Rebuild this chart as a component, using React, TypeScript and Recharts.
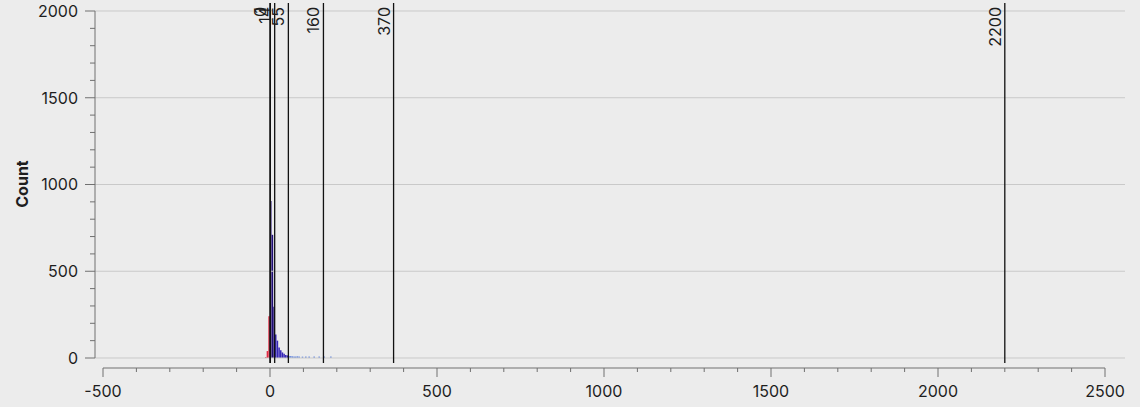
import React from "react";
import { Bar, Cell, ComposedChart, ReferenceLine, XAxis, YAxis } from "recharts";

// Histogram bins (5 units wide): left edge and count.
const binStarts = [
  -15, -10, -5, 0, 5, 10, 15, 20, 25, 30, 35, 40, 45, 50, 55, 60, 65, 70, 75, 80,
  85, 95, 105, 115, 130, 145, 160, 180,
];
const binCounts = [
  5, 40, 240, 905, 710, 295, 135, 100, 60, 45, 32, 25, 18, 15, 12, 11, 10, 9, 8, 10,
  9, 8, 9, 8, 9, 9, 8, 9,
];
const BIN_WIDTH = 5;

// Vertical marker lines and their labels.
const markerValues = [0, 1, 14, 55, 160, 370, 2200];
const markerLabels = ["0", "1", "14", "55", "160", "370", "2200"];

const xTicks = Array.from({ length: 31 }, (_, i) => -500 + i * 100);
const yTicks = Array.from({ length: 21 }, (_, i) => i * 100);
const yMajor = [0, 500, 1000, 1500, 2000];

const FONT = "Inter, 'Helvetica Neue', Arial, sans-serif";
const BG = "#ececec";
const AXIS_COLOR = "#707070";
const TEXT = "#1e1e1e";

const data = binStarts.map((s, i) => ({ x: s + BIN_WIDTH / 2, start: s, count: binCounts[i] }));

function binColor(start: number) {
  if (start < 0) return "#e22a43";
  if (start < 14) return "#1f0d72";
  if (start < 55) return "#3626b8";
  return "#6f8fe0";
}

function XTick(props: any) {
  const { x, y, payload } = props;
  const major = payload.value % 500 === 0;
  return (
    <g>
      <line x1={x} x2={x} y1={y + 5} y2={y + (major ? 14 : 9)} stroke={AXIS_COLOR} strokeWidth={1} />
      {major && (
        <text x={x} y={y + 34} textAnchor="middle" fill={TEXT} fontSize={16} fontFamily={FONT}>
          {payload.value}
        </text>
      )}
    </g>
  );
}

function YTick(props: any) {
  const { x, y, payload } = props;
  const major = payload.value % 500 === 0;
  return (
    <g>
      <line x1={x - (major ? 10 : 5)} x2={x} y1={y} y2={y} stroke={AXIS_COLOR} strokeWidth={1} />
      {major && (
        <text x={x - 17} y={y} dy="0.36em" textAnchor="end" fill={TEXT} fontSize={16} fontFamily={FONT}>
          {payload.value}
        </text>
      )}
    </g>
  );
}

function MarkerLabel(props: any) {
  const { viewBox, value } = props;
  const x = viewBox.x - 4;
  const y = viewBox.y + 4;
  return (
    <text
      x={x}
      y={y}
      transform={`rotate(-90 ${x} ${y})`}
      textAnchor="end"
      fill={TEXT}
      fontSize={16}
      fontFamily={FONT}
    >
      {value}
    </text>
  );
}

function CountLabel(props: any) {
  const { viewBox } = props;
  const x = 28;
  const y = viewBox.y + viewBox.height / 2 + 1;
  return (
    <text
      x={x}
      y={y}
      transform={`rotate(-90 ${x} ${y})`}
      textAnchor="middle"
      fill={TEXT}
      fontSize={16}
      fontWeight="bold"
      fontFamily={FONT}
    >
      Count
    </text>
  );
}

export default function App() {
  return (
    <div style={{ position: "absolute", left: 0, top: 0, width: 1140, height: 407, background: BG }}>
      <ComposedChart width={1140} height={407} data={data} margin={{ top: 3, right: 15, bottom: 0, left: 0 }}>
        <XAxis
          type="number"
          dataKey="x"
          domain={[-500, 2500]}
          ticks={xTicks}
          interval={0}
          padding={{ left: 8, right: 20 }}
          height={44}
          axisLine={false}
          tickLine={false}
          tickSize={0}
          tickMargin={0}
          tick={<XTick />}
          allowDataOverflow
        />
        <YAxis
          type="number"
          domain={[0, 2000]}
          ticks={yTicks}
          interval={0}
          padding={{ top: 8, bottom: 5 }}
          width={95}
          axisLine={false}
          tickLine={false}
          tickSize={0}
          tickMargin={0}
          tick={<YTick />}
          label={<CountLabel />}
          allowDataOverflow
        />
        {yMajor.map((v) => (
          <ReferenceLine key={`g${v}`} y={v} stroke="#c9c9c9" strokeWidth={1} />
        ))}
        {/* range-frame axis lines, offset from the data extent */}
        <ReferenceLine
          segment={[{ x: -500, y: 0 }, { x: 2500, y: 0 }]}
          shape={(p: any) => <line x1={p.x1} x2={p.x2} y1={p.y1 + 10} y2={p.y2 + 10} stroke={AXIS_COLOR} strokeWidth={1} />}
        />
        <ReferenceLine
          segment={[{ x: -500, y: 0 }, { x: -500, y: 2000 }]}
          shape={(p: any) => <line x1={p.x1 - 8} x2={p.x2 - 8} y1={p.y1} y2={p.y2} stroke={AXIS_COLOR} strokeWidth={1} />}
        />
        <Bar dataKey="count" barSize={2} isAnimationActive={false}>
          {data.map((d) => (
            <Cell key={d.start} fill={binColor(d.start)} />
          ))}
        </Bar>
        {markerValues.map((v, i) => (
          <ReferenceLine
            key={`m${v}`}
            x={v}
            stroke="#111111"
            strokeWidth={1.3}
            label={<MarkerLabel value={markerLabels[i]} />}
          />
        ))}
      </ComposedChart>
    </div>
  );
}
